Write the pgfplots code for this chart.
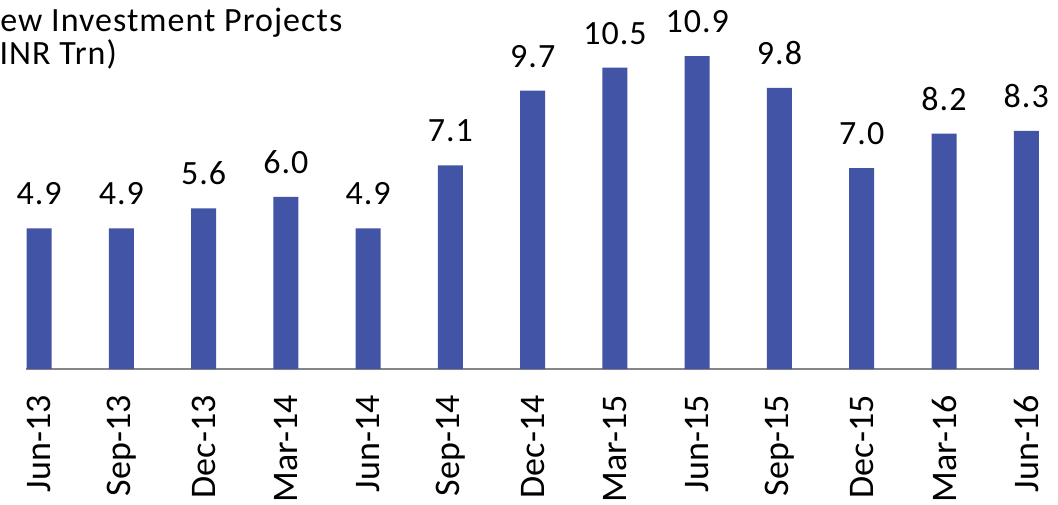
\documentclass[border=0pt]{standalone}
\usepackage{pgfplots}
\pgfplotsset{compat=1.18}
\usepackage{fontspec}
\setmainfont{Carlito}
\newfontfamily\widefont[LetterSpace=3]{Carlito}
\definecolor{barblue}{RGB}{65,84,166}
\definecolor{axisgray}{RGB}{134,134,134}
\begin{document}
\begin{tikzpicture}
\begin{axis}[
    name=ax,
    at={(0,0)}, anchor=south west,
    scale only axis,
    width=506.3pt, height=184.5pt,
    xmin=-0.155, xmax=12.155,
    ymin=0, ymax=12.86,
    axis x line*=bottom,
    axis y line=none,
    x axis line style={-, draw=axisgray, line width=0.75pt},
    xtick={0,...,12},
    xticklabels={Jun-13,Sep-13,Dec-13,Mar-14,Jun-14,Sep-14,Dec-14,Mar-15,Jun-15,Sep-15,Dec-15,Mar-16,Jun-16},
    major tick length=0pt,
    xticklabel style={rotate=90, anchor=east, inner sep=0pt, font=\fontsize{18}{20}\selectfont},
    xticklabel shift=13pt,
    ybar, bar width=12.5pt,
    /pgf/number format/assume math mode=true,
    nodes near coords={\pgfmathprintnumber[fixed,fixed zerofill,precision=1]{\pgfplotspointmeta}},
    every node near coord/.append style={font=\widefont\fontsize{17}{19}\selectfont, inner sep=0pt, yshift=11.5pt, text=black},
    clip=false,
    ]
    \addplot[fill=barblue, draw=none] coordinates {
       (0,4.9) (1,4.9) (2,5.6) (3,6.0) (4,4.9) (5,7.1) (6,9.7)
       (7,10.5) (8,10.9) (9,9.8) (10,7.0) (11,8.2) (12,8.3)
    };
\end{axis}
% title as far as the reference shows it (cut at the left edge there)
\node[anchor=base west, inner sep=0pt, font=\widefont\fontsize{17}{19}\selectfont]
  at ([shift={(-13.2pt,168.65pt)}]ax.south west) {ew Investment Projects};
\node[anchor=base west, inner sep=0pt, font=\widefont\fontsize{17}{19}\selectfont]
  at ([shift={(-13.6pt,152pt)}]ax.south west) {INR Trn)};
\pgfresetboundingbox
\useasboundingbox ([shift={(-13.2pt,-67.5pt)}]ax.south west) rectangle ++(529pt,252pt);
\end{tikzpicture}
\end{document}
